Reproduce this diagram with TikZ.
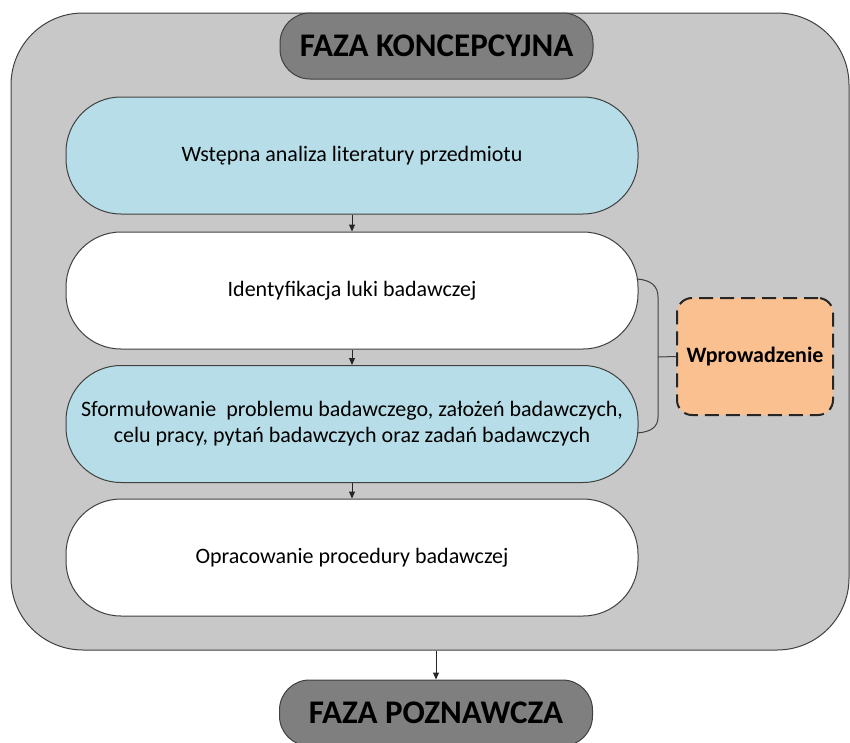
\documentclass[tikz,border=0pt]{standalone}
\usepackage{fontspec}
\setmainfont{Carlito}
\usetikzlibrary{arrows.meta}

\definecolor{panelgray}{HTML}{C8C8C8}
\definecolor{phasegray}{HTML}{7F7F7F}
\definecolor{stepblue}{HTML}{B7DEE8}
\definecolor{introorange}{HTML}{FAC090}
\definecolor{edgegray}{HTML}{404040}

\tikzset{
  panel/.style={draw=edgegray, line width=1pt, fill=panelgray, rounded corners=72pt,
    minimum width=838pt, minimum height=637pt, inner sep=0pt},
  phase/.style={draw=edgegray, line width=1pt, fill=phasegray, rounded corners=30pt,
    minimum width=313pt, minimum height=66pt, inner sep=0pt,
    font=\fontsize{33}{38}\selectfont\bfseries},
  stepbox/.style={draw=edgegray, line width=1pt, rounded corners=55pt,
    minimum width=572pt, minimum height=117pt, inner sep=0pt, align=center,
    font=\fontsize{22}{26}\selectfont},
  bluestep/.style={stepbox, fill=stepblue},
  whitestep/.style={stepbox, fill=white},
  intro/.style={draw=black!85, line width=2pt, dash pattern=on 14pt off 7pt,
    fill=introorange, rounded corners=15pt, minimum width=156pt, minimum height=117pt,
    inner sep=0pt, font=\fontsize{22}{26}\selectfont\bfseries},
  flow/.style={draw=black!85, line width=1pt, -{Triangle[length=7pt,width=6pt]}},
  brace/.style={draw=edgegray, line width=1pt}
}

\begin{document}
\begin{tikzpicture}[x=1pt,y=-1pt]
  \useasboundingbox (0,0) rectangle (850,742);
  \clip (0,0) rectangle (850,742);

  % outer panel of the conceptual phase
  \node[panel] (outer) at (430,331.5) {};

  % phase labels
  \node[phase] (fk) at (436.5,46) {FAZA KONCEPCYJNA};
  \node[phase] (fp) at (436,713) {FAZA POZNAWCZA};

  % steps
  \node[bluestep]  (s1) at (352,155.5) {Wstępna analiza literatury przedmiotu};
  \node[whitestep] (s2) at (352,290.5) {Identyfikacja luki badawczej};
  \node[bluestep]  (s3) at (352,424)   {Sformułowanie\ \ problemu badawczego, założeń badawczych,\\celu pracy, pytań badawczych oraz zadań badawczych};
  \node[whitestep] (s4) at (352,557.5) {Opracowanie procedury badawczej};

  % introduction box
  \node[intro] (wp) at (755,356.5) {Wprowadzenie};

  % arrows between steps
  \draw[flow] (s1.south) -- (s2.north);
  \draw[flow] (s2.south) -- (s3.north);
  \draw[flow] (s3.south) -- (s4.north);

  % arrow to the next phase
  \coordinate (outbottom) at (outer.south -| fp.north);
  \draw[flow] (outbottom) -- (fp.north);

  % bracket grouping steps 2 and 3
  \coordinate (bt) at (637,279);
  \coordinate (bb) at (637,433);
  \coordinate (bm) at (658,357);
  \draw[brace] (bt) .. controls (651,280) and (658,286) .. (658,297)
    -- (658,417) .. controls (658,427) and (651,432) .. (bb);
  \draw[brace] (bm) -- (wp.west);
\end{tikzpicture}
\end{document}
